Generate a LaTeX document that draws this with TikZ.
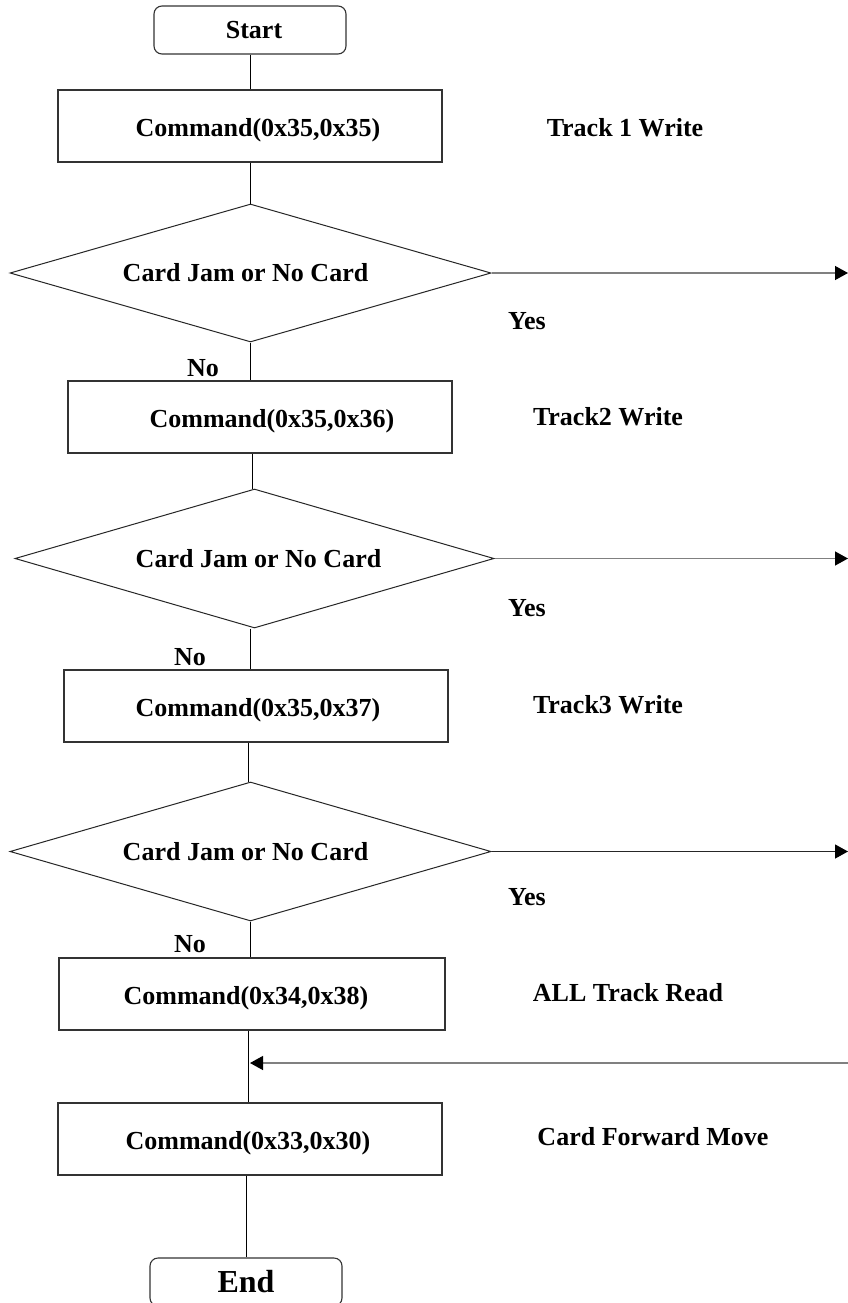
\documentclass[tikz,border=0pt]{standalone}
\usepackage{fontspec}
\setmainfont{Liberation Serif}
\usetikzlibrary{shapes.geometric,arrows.meta}
\tikzset{
  txt/.style={font=\fontsize{26}{30}\selectfont\bfseries, inner sep=0pt},
  procbox/.style={txt, draw=black!80, line width=1.1pt, rectangle, minimum width=384pt, minimum height=72pt, text height=22pt, text depth=1pt},
  termbox/.style={txt, draw=black!80, line width=1.1pt, rectangle, rounded corners=8pt, minimum width=192pt, minimum height=48pt},
  decbox/.style={txt, draw=black!85, line width=1pt, diamond, aspect=3.5, minimum width=481pt, minimum height=138pt},
  conn/.style={draw=black, line width=0.9pt},
  yesarrow/.style={draw=black!50, line width=1.3pt, -{Triangle[length=13pt,width=14pt,color=black,fill=black]}},
  lbl/.style={txt}
}
\begin{document}
\begin{tikzpicture}[x=1pt,y=-1pt]
\clip (0,0) rectangle (848,1303);
\fill[white] (0,0) rectangle (848,1303);

\node[termbox, text height=20pt, text depth=2pt] (start) at (250,30) {\hspace*{8pt}Start};
\node[procbox] (b1) at (250,126) {\hspace*{16pt}Command(0x35,0x35)};
\node[decbox] (d1) at (250.5,273) {Card Jam or No Card\hspace*{10pt}};
\node[procbox] (b2) at (260,417) {\hspace*{24pt}Command(0x35,0x36)};
\node[decbox, minimum width=479pt, minimum height=139pt] (d2) at (254.5,558.5) {\hspace*{8pt}Card Jam or No Card};
\node[procbox] (b3) at (256,706) {\hspace*{4pt}Command(0x35,0x37)};
\node[decbox, minimum height=139pt] (d3) at (250.5,851.5) {Card Jam or No Card\hspace*{10pt}};
\node[procbox, minimum width=386pt] (b4) at (252,994) {Command(0x34,0x38)\hspace*{12pt}};
\node[procbox] (b5) at (250,1139) {Command(0x33,0x30)\hspace*{4pt}};
\node[termbox, font=\fontsize{32}{36}\selectfont\bfseries] (end) at (246,1282) {End};

\node[lbl] (t1) at (625,128) {Track 1 Write};
\node[lbl] (t2) at (608,417) {Track2 Write};
\node[lbl] (t3) at (608,705) {Track3 Write};
\node[lbl] (t4) at (628,993) {ALL Track Read};
\node[lbl] (t5) at (653,1137) {Card Forward Move};

\node[lbl] (y1) at (527,321) {Yes};
\node[lbl] (y2) at (527,608) {Yes};
\node[lbl] (y3) at (527,897) {Yes};
\node[lbl] (n1) at (203,368) {No};
\node[lbl] (n2) at (190,657) {No};
\node[lbl] (n3) at (190,944) {No};

\coordinate (r1) at (848,273);
\coordinate (r2) at (848,558.5);
\coordinate (r3) at (848,851.5);
\coordinate (rin) at (848,1063);
\coordinate (jn) at (248,1063);

\draw[conn] (start.south) -- (start.south |- b1.north);
\draw[conn] (b1.south) -- (b1.south |- d1.north);
\draw[conn] (d1.south) -- (d1.south |- b2.north);
\draw[conn] ([xshift=-8pt]b2.south) -- ([xshift=-8pt]b2.south |- d2.north);
\draw[conn] ([xshift=-4pt]d2.south) -- ([xshift=-4pt]d2.south |- b3.north);
\draw[conn] ([xshift=-8pt]b3.south) -- ([xshift=-8pt]b3.south |- d3.north);
\draw[conn] (d3.south) -- (d3.south |- b4.north);
\draw[conn] (jn |- b4.south) -- (jn |- b5.north);
\draw[conn] ([xshift=-4pt]b5.south) -- ([xshift=-4pt]b5.south |- end.north);

\draw[yesarrow] (d1.east) -- (r1);
\draw[yesarrow] (d2.east) -- (r2);
\draw[yesarrow, draw=black!85] (d3.east) -- (r3);
\draw[yesarrow] (rin) -- ([xshift=2pt]jn);
\end{tikzpicture}
\end{document}
